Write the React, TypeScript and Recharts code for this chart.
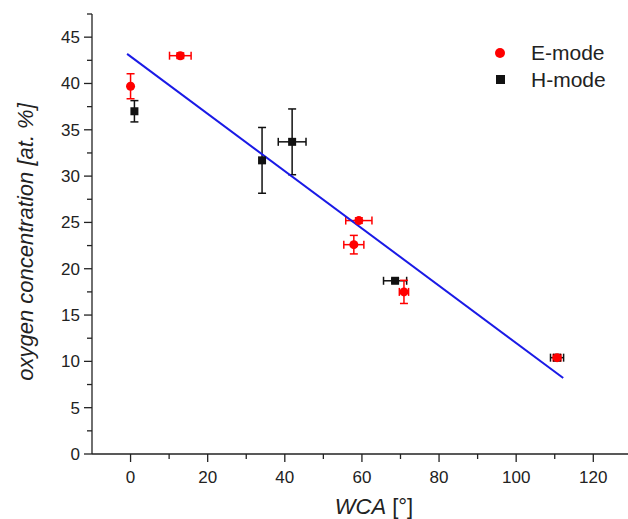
import React from 'react';
import { ScatterChart, Scatter, XAxis, YAxis, ErrorBar, Label } from 'recharts';

// E-mode samples: WCA [°], oxygen [at. %], errors in x and y
const eModeWca = [0, 12.9, 59.2, 57.9, 70.9, 110.6];
const eModeOxygen = [39.7, 43.0, 25.2, 22.6, 17.5, 10.4];
const eModeWcaErr = [0, 2.8, 3.4, 2.6, 1.2, 1.0];
const eModeOxygenErr = [1.35, 0.3, 0.3, 1.0, 1.25, 0.3];

// H-mode samples
const hModeWca = [1.0, 34.1, 41.9, 68.6, 110.6];
const hModeOxygen = [37.0, 31.7, 33.7, 18.7, 10.4];
const hModeWcaErr = [0, 0, 3.6, 3.0, 1.7];
const hModeOxygenErr = [1.15, 3.55, 3.55, 0.2, 0.3];

// end points of the linear fit
const fitWca = [-0.9, 112.2];
const fitOxygen = [43.2, 8.2];

const xTicks = [0, 10, 20, 30, 40, 50, 60, 70, 80, 90, 100, 110, 120];
const yTicks = [0, 2.5, 5, 7.5, 10, 12.5, 15, 17.5, 20, 22.5, 25, 27.5, 30, 32.5, 35, 37.5, 40, 42.5, 45, 47.5];

const toPoints = (xs: number[], ys: number[], exs: number[], eys: number[]) =>
  xs.map((x, i) => ({ x, y: ys[i], ex: exs[i], ey: eys[i] }));

const eMode = toPoints(eModeWca, eModeOxygen, eModeWcaErr, eModeOxygenErr);
const hMode = toPoints(hModeWca, hModeOxygen, hModeWcaErr, hModeOxygenErr);
const fit = fitWca.map((x, i) => ({ x, y: fitOxygen[i] }));

const FONT = '"Liberation Sans", Arial, sans-serif';
const INK = '#222';

const XTick = (props: any) => {
  const { x, y, payload } = props;
  const major = payload.value % 20 === 0;
  return (
    <g>
      <line x1={x} y1={y} x2={x} y2={y + (major ? 8 : 5)} stroke={INK} strokeWidth={1.3} />
      {major && (
        <text x={x} y={y + 29} textAnchor="middle" fontSize={17} fill={INK} fontFamily={FONT}>
          {payload.value}
        </text>
      )}
    </g>
  );
};

const YTick = (props: any) => {
  const { x, y, payload } = props;
  const major = payload.value % 5 === 0;
  return (
    <g>
      <line x1={x} y1={y} x2={x - (major ? 8 : 5)} y2={y} stroke={INK} strokeWidth={1.3} />
      {major && (
        <text x={x - 12} y={y + 6} textAnchor="end" fontSize={17} fill={INK} fontFamily={FONT}>
          {payload.value}
        </text>
      )}
    </g>
  );
};

const XTitle = (props: any) => {
  const vb = props.viewBox;
  return (
    <text x={vb.x + vb.width / 2 + 14} y={vb.y + 60} textAnchor="middle" fontSize={22} fill={INK} fontFamily={FONT}>
      <tspan fontStyle="italic">WCA</tspan> [°]
    </text>
  );
};

const YTitle = (props: any) => {
  const vb = props.viewBox;
  const cx = 25;
  const cy = vb.y + vb.height / 2 + 8;
  return (
    <text
      x={cx}
      y={cy}
      transform={`rotate(-90 ${cx} ${cy})`}
      textAnchor="middle"
      dominantBaseline="central"
      fontSize={22}
      fontStyle="italic"
      fill={INK}
      fontFamily={FONT}
    >
      oxygen concentration [at. %]
    </text>
  );
};

// legend box in the upper right corner of the plot
const ModeLegend = () => (
  <div
    style={{
      position: 'absolute',
      top: 39,
      left: 495,
      fontFamily: FONT,
      fontSize: 21,
      color: INK,
      lineHeight: '27px',
    }}
  >
    <div style={{ display: 'flex', alignItems: 'center' }}>
      <span style={{ width: 10, height: 10, borderRadius: 5, background: '#ff0000', display: 'inline-block', marginRight: 26 }} />
      E-mode
    </div>
    <div style={{ display: 'flex', alignItems: 'center' }}>
      <span style={{ width: 9, height: 9, background: '#111', display: 'inline-block', marginLeft: 0.5, marginRight: 26.5 }} />
      H-mode
    </div>
  </div>
);

export default function App() {
  return (
    <div style={{ position: 'absolute', left: 0, top: 0, width: 628, height: 519, background: '#fff' }}>
      <ScatterChart width={628} height={519} margin={{ top: 14, right: 0, bottom: 0, left: 0 }}>
        <XAxis
          type="number"
          dataKey="x"
          domain={[-10, 129]}
          ticks={xTicks}
          interval={0}
          allowDataOverflow
          tickSize={0}
          tickMargin={0}
          tickLine={false}
          tick={<XTick />}
          height={65}
          axisLine={{ stroke: INK, strokeWidth: 1.3 }}
        >
          <Label content={<XTitle />} />
        </XAxis>
        <YAxis
          type="number"
          dataKey="y"
          domain={[0, 47.5]}
          ticks={yTicks}
          interval={0}
          allowDataOverflow
          tickSize={0}
          tickMargin={0}
          tickLine={false}
          tick={<YTick />}
          width={92}
          axisLine={{ stroke: INK, strokeWidth: 1.3 }}
        >
          <Label content={<YTitle />} />
        </YAxis>
        <Scatter
          data={fit}
          line={{ stroke: '#1a1ae6', strokeWidth: 2 }}
          shape={() => <g />}
          legendType="none"
          isAnimationActive={false}
        />
        <Scatter data={hMode} fill="#111" shape="square" isAnimationActive={false}>
          <ErrorBar dataKey="ex" direction="x" width={4} stroke="#111" strokeWidth={1.5} />
          <ErrorBar dataKey="ey" direction="y" width={4} stroke="#111" strokeWidth={1.5} />
        </Scatter>
        <Scatter data={eMode} fill="#ff0000" shape="circle" isAnimationActive={false}>
          <ErrorBar dataKey="ex" direction="x" width={4} stroke="#ff0000" strokeWidth={1.5} />
          <ErrorBar dataKey="ey" direction="y" width={4} stroke="#ff0000" strokeWidth={1.5} />
        </Scatter>
      </ScatterChart>
      <ModeLegend />
    </div>
  );
}
